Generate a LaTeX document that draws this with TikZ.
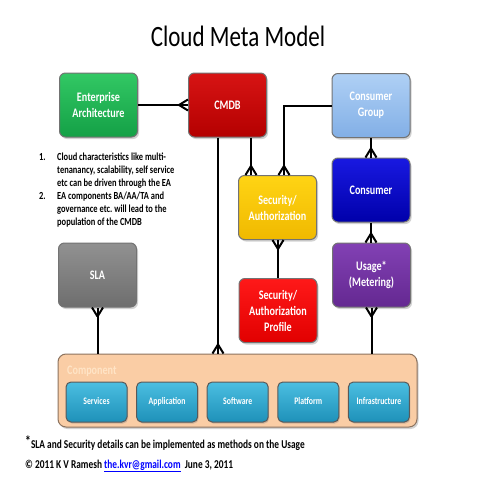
\documentclass[tikz,border=0pt]{standalone}
\usepackage{fontspec}
\setmainfont{Carlito}[FakeStretch=0.78]
\usetikzlibrary{shadows,positioning}
\frenchspacing

\definecolor{eatop}{RGB}{50,200,100}
\definecolor{eabot}{RGB}{20,160,70}
\definecolor{cmdbtop}{RGB}{215,20,20}
\definecolor{cmdbbot}{RGB}{180,0,0}
\definecolor{cgtop}{RGB}{175,208,245}
\definecolor{cgbot}{RGB}{130,175,230}
\definecolor{contop}{RGB}{25,25,225}
\definecolor{conbot}{RGB}{0,0,170}
\definecolor{sectop}{RGB}{255,212,20}
\definecolor{secbot}{RGB}{240,185,0}
\definecolor{proftop}{RGB}{255,25,25}
\definecolor{profbot}{RGB}{225,0,0}
\definecolor{slatop}{RGB}{145,145,145}
\definecolor{slabot}{RGB}{110,110,110}
\definecolor{usetop}{RGB}{130,65,180}
\definecolor{usebot}{RGB}{100,40,145}
\definecolor{subtop}{RGB}{75,190,225}
\definecolor{subbot}{RGB}{30,145,185}
\definecolor{compfill}{RGB}{250,205,165}
\definecolor{compline}{RGB}{140,115,95}
\definecolor{complabel}{RGB}{255,228,198}

\pgfarrowsdeclare{crowfoot}{crowfoot}
{\pgfarrowsleftextend{-9pt}\pgfarrowsrightextend{0pt}}
{\pgfsetdash{}{0pt}\pgfsetroundjoin
 \pgfpathmoveto{\pgfpoint{-9pt}{0pt}}\pgfpathlineto{\pgfpoint{0pt}{5.5pt}}
 \pgfpathmoveto{\pgfpoint{-9pt}{0pt}}\pgfpathlineto{\pgfpoint{0pt}{-5.5pt}}
 \pgfusepathqstroke}

\begin{document}
\begin{tikzpicture}[x=1pt, y=-1pt,
    entity/.style={draw=black!55, line width=1pt, rounded corners=6pt,
      minimum width=78pt, minimum height=64pt, align=center, text=white,
      font=\bfseries\fontsize{13}{16}\selectfont,
      drop shadow={opacity=0.35, shadow xshift=1.5pt, shadow yshift=-2pt}},
    subbox/.style={draw=black!65, line width=1pt, rounded corners=5pt,
      minimum width=61pt, minimum height=40pt, text=white,
      text height=7pt, text depth=2pt,
      top color=subtop, bottom color=subbot,
      font=\bfseries\fontsize{10}{12}\selectfont,
      drop shadow={opacity=0.35, shadow xshift=1pt, shadow yshift=-1.5pt}},
    link/.style={line width=2pt, black},
    crow/.style={link, -crowfoot}]
  \useasboundingbox[fill=white] (0,0) rectangle (480,480);
  \node[font=\fontsize{29.5}{34}\selectfont, anchor=base] (title) at (238,46) {Cloud Meta Model};

  \node[entity, top color=eatop, bottom color=eabot] (ea) at (98.5,105) {Enterprise\\Architecture};
  \node[entity, top color=cmdbtop, bottom color=cmdbbot] (cmdb) at (227.5,105) {CMDB};
  \node[entity, top color=cgtop, bottom color=cgbot] (cgroup) at (371,105.5) {Consumer\\Group};
  \node[entity, top color=contop, bottom color=conbot] (consumer) at (371,190) {Consumer};
  \node[entity, top color=sectop, bottom color=secbot] (security) at (277.5,207.5) {Security/\\Authorization};
  \node[entity, top color=slatop, bottom color=slabot] (sla) at (97.5,275) {SLA};
  \node[entity, top color=proftop, bottom color=profbot] (profile) at (278,310.5) {Security/\\Authorization\\Profile};
  \node[entity, top color=usetop, bottom color=usebot] (usage) at (371.5,275) {Usage*\\(Metering)};

  \node[draw=compline, line width=1pt, fill=compfill, rounded corners=8pt,
    minimum width=359pt, minimum height=73pt,
    drop shadow={opacity=0.35, shadow xshift=1.5pt, shadow yshift=-2pt}] (comp) at (237.5,390.5) {};
  \node[anchor=west, inner sep=0pt, text=complabel, font=\bfseries\fontsize{13}{16}\selectfont] (complbl) at (67,371) {Component};
  \foreach \lbl [count=\i] in {Services,Application,Software,Platform,Infrastructure}
    \node[subbox] (sub\i) at ({25.9+70.6*\i},402) {\lbl};

  \node[anchor=north west, inner sep=0pt, align=left, font=\bfseries\fontsize{10.8}{13}\selectfont] (notes) at (39,151)
    {\begin{tabular}{@{}p{18pt}@{}l@{}}
      1. & Cloud characteristics like multi-\\
         & tenanancy, scalability, self service\\
         & etc can be driven through the EA\\
      2. & EA components BA/AA/TA and\\
         & governance etc. will lead to the\\
         & population of the CMDB
     \end{tabular}};

  \node[anchor=base west, inner sep=0pt, font=\bfseries\fontsize{12}{14}\selectfont] (footnote) at (25,448)
    {\raisebox{2pt}{\fontsize{15}{15}\selectfont*}SLA and Security details can be implemented as methods on the Usage};
  \node[anchor=base west, inner sep=0pt, font=\bfseries\fontsize{12}{14}\selectfont] (credit) at (25,468)
    {© 2011 K V Ramesh \textcolor{blue}{\underline{the.kvr@gmail.com}}\ \ June 3, 2011};

  \draw[crow] (ea.east) -- (ea.east -| cmdb.west);
  \draw[crow] ([xshift=-9.5pt]cmdb.south) -- ([xshift=-9.5pt]cmdb.south |- comp.north);
  \draw[crow] ([xshift=23.5pt]cmdb.south) -- ([xshift=23.5pt]cmdb.south |- security.north);
  \draw[crow] (cgroup.west) -| ([xshift=6.5pt]security.north);
  \draw[crow] (cgroup.south) -- (consumer.north);
  \draw[crow] (consumer.south) -- (usage.north -| consumer.south);
  \draw[crow] (profile.north) -- (profile.north |- security.south);
  \draw[crow] (sla.south |- comp.north) -- (sla.south);
  \draw[crow] (usage.south |- comp.north) -- (usage.south);
\end{tikzpicture}
\end{document}
